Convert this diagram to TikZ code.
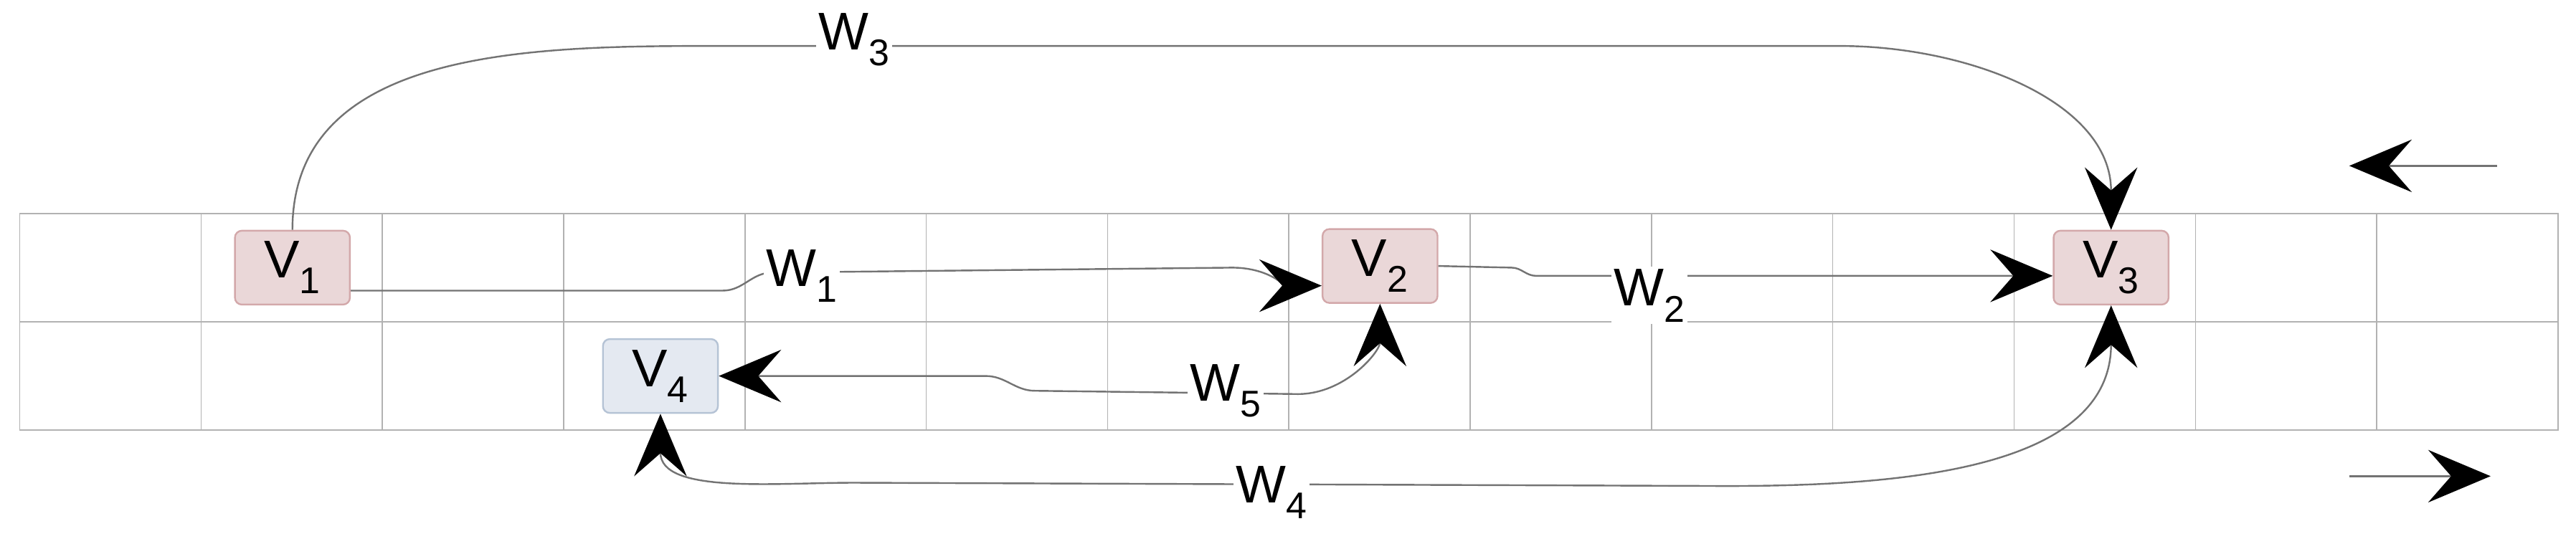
\documentclass[tikz,border=0pt]{standalone}
\usepackage{fontspec}
\setmainfont{Liberation Sans}
\usetikzlibrary{positioning}
\usetikzlibrary{arrows.meta, calc}
\definecolor{pinkfill}{HTML}{EAD7D8}
\definecolor{pinkline}{HTML}{D3A8AA}
\definecolor{bluefill}{HTML}{E4E9F1}
\definecolor{blueline}{HTML}{B5C3D5}
\tikzset{
    vertex/.style = {draw, rounded corners=6pt, line width=1.5pt, minimum width=3.5cm, minimum height=2.25cm, font=\fontsize{46}{54}\selectfont},
    red vertex/.style = {vertex, fill=pinkfill, draw=pinkline},
    blue vertex/.style = {vertex, fill=bluefill, draw=blueline},
    tip/.tip = {Stealth[length=1.9cm, width=1.6cm, inset=0.7cm, black]},
    edge/.style = {draw=gray!90!black, line width=1.5pt, -tip},
    both edge/.style = {edge, tip-tip},
    weight/.style = {fill=white, inner sep=2pt, font=\fontsize{46}{54}\selectfont}
}
\begin{document}
\begin{tikzpicture}[x=0.05cm, y=-0.05cm]
    \useasboundingbox (0,0) rectangle (1568,331);
    % grid of cells
    \draw[gray!60, line width=1.2pt] (12,130) rectangle (1557,262);
    \draw[gray!60, line width=1.2pt] (12,196) -- (1557,196);
    \foreach \i in {1,...,13}
        \draw[gray!60, line width=1pt] ({12+\i*110.36},130) -- ({12+\i*110.36},262);

    % vertices
    \node[red vertex] (v1) at (178,163) {V\textsubscript{1}};
    \node[red vertex] (v2) at (840,162) {V\textsubscript{2}};
    \node[red vertex] (v3) at (1285,163) {V\textsubscript{3}};
    \node[blue vertex] (v4) at (402,229) {V\textsubscript{4}};

    % edges
    \draw[edge] (v1.north) to[out=90, in=180] (450,28) -- (1120,28) to[out=0, in=90] (v3.north);
    \draw[edge] ($(v1.east)+(0,14)$) -- (440,177) to[out=0, in=180] (470,166) -- (750,163) to[out=0, in=180] ($(v2.west)+(0,12)$);
    \draw[edge] (v2.east) -- (920,163) to[out=0, in=180] (935,168) -- (v3.west |- 0,168);
    \draw[both edge] (v2.south) to[out=-90, in=0] (790,240) -- (630,238) to[out=180, in=0] (600,229) -- (v4.east);
    \draw[both edge] (v3.south) to[out=-90, in=0] (1050,296) -- (520,294) to[out=180, in=-90] (v4.south);

    % weights
    \node[weight] (w3) at (520,24) {W\textsubscript{3}};
    \node[weight] (w1) at (488,168) {W\textsubscript{1}};
    \node[weight] (w2) at (1004,180) {W\textsubscript{2}};
    \node[weight] (w5) at (746,238) {W\textsubscript{5}};
    \node[weight] (w4) at (774,300) {W\textsubscript{4}};

    % direction arrows
    \coordinate (a1) at (1520,101);
    \coordinate (b1) at (1430,101);
    \coordinate (a2) at (1430,290);
    \coordinate (b2) at (1516,290);
    \draw[edge] (a1) -- (b1);
    \draw[edge] (a2) -- (b2);
\end{tikzpicture}
\end{document}
